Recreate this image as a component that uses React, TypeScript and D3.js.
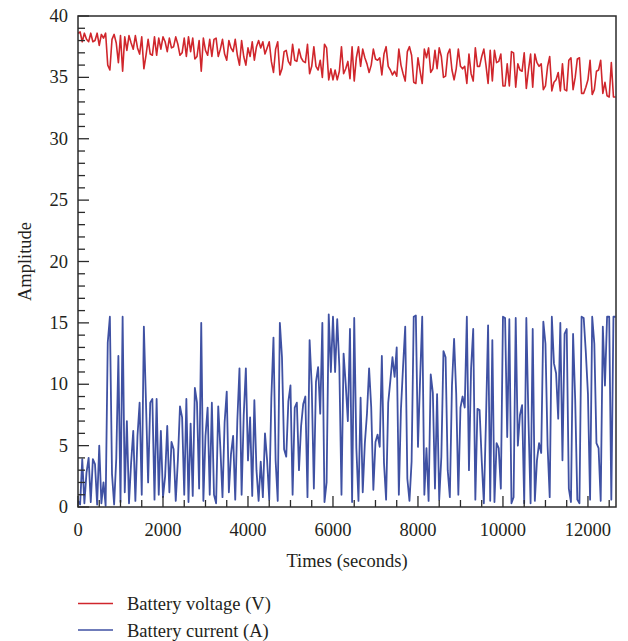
import React from 'react';
import * as d3 from 'd3';

// sample interval (seconds) of the logged series
const T_STEP = 50;

// Battery current (A), one value per sample
const currentA: number[] = [
  0.5, 0.2, 3.9, 0.3, 2.8, 4.0, 0.4, 3.9, 3.5, 0.2, 5.0, 0.3, 2.0, 0.1, 13.4, 15.5, 2.7, 0.2, 3.9, 12.3,
  0.4, 15.5, 1.2, 7.0, 0.3, 3.6, 6.2, 0.5, 5.8, 8.5, 1.0, 14.7, 8.5, 2.0, 8.5, 8.8, 0.6, 8.8, 1.0, 6.2,
  0.8, 2.5, 6.6, 1.2, 5.3, 4.7, 0.5, 3.8, 8.2, 7.3, 1.0, 8.8, 0.4, 6.8, 0.9, 9.7, 8.5, 1.5, 15.0, 0.5,
  5.8, 8.1, 1.0, 8.5,
  1.0, 0.3, 8.2, 4.8, 0.8, 6.9, 9.4, 1.2, 4.3, 5.8, 0.6, 7.1, 11.3, 1.0, 7.5, 11.3,
  3.8, 7.3, 0.9, 8.7, 3.0, 0.5, 3.7, 0.8, 6.0, 3.8, 0.6, 8.9, 13.8, 3.8, 0.5, 15.0, 12.2, 4.7, 4.1, 8.6,
  9.9, 1.0, 8.1, 8.5, 3.0, 6.6, 8.4, 9.0, 0.8, 13.6, 9.9, 1.5, 10.2, 11.4, 7.6, 15.0, 0.4, 2.0, 15.7, 11.0,
  15.5, 11.0, 15.3, 11.4, 1.0, 12.5, 10.0, 7.0,
  14.5, 0.4, 15.4, 4.8, 0.5, 8.9, 1.2, 5.2, 7.6, 11.3, 8.1, 1.4, 5.3, 5.9, 4.9, 12.3, 3.6, 0.6, 8.5, 10.3,
  12.2, 10.6, 13.0, 1.0, 8.0, 11.5, 14.7, 2.3, 0.5, 3.7, 15.5, 15.6, 4.9, 10.4, 15.5, 1.0, 4.8, 0.5, 10.8, 9.3,
  1.5, 9.2, 0.6, 4.1, 12.7, 12.2, 3.0, 0.8, 9.9, 13.7, 9.2, 1.0, 8.1, 9.0, 8.1, 15.5, 3.0, 11.3, 14.5, 0.6,
  8.0, 7.9, 3.8,
  0.3, 7.0, 14.8, 0.5, 13.6, 0.4, 5.2, 4.8, 1.5, 15.5, 15.4, 5.7, 15.3, 0.3, 0.8, 15.4, 5.0, 7.5, 8.3,
  0.3, 15.4, 7.1, 0.3, 14.5, 0.5, 3.8, 5.2, 4.4, 15.1, 13.3, 5.0, 0.8, 15.5, 11.7, 10.9, 7.2, 15.0, 3.8, 14.1,
  14.5, 1.5, 0.4, 14.1, 8.7, 0.6, 0.3, 15.5, 15.4, 12.6, 9.2, 0.6, 15.5, 13.3, 5.2, 4.8, 0.5, 14.7, 9.9, 15.5,
  15.5, 0.6, 15.5, 15.5,
];

// Battery voltage (V), one value per sample
const voltageV: number[] = [
  38.6, 38.7, 37.9, 38.6, 38.1, 37.9, 38.6, 37.9, 38.0, 38.6, 37.6, 38.5, 38.2, 38.6, 36.0, 35.6, 38.1, 38.5, 37.8, 36.2,
  38.4, 35.5, 38.3, 37.2, 38.4, 37.8, 37.3, 38.4, 37.4, 36.9, 38.3, 35.7, 36.8, 38.1, 36.9, 36.8, 38.3, 36.8, 38.2, 37.3,
  38.3, 37.9, 37.1, 38.2, 37.4, 37.5, 38.3, 37.7, 36.8, 37.0, 38.2, 36.7, 38.3, 37.1, 38.2, 36.5, 36.7, 38.0, 35.5, 38.2,
  37.2, 36.8, 38.1, 36.7,
  38.1, 38.2, 36.7, 37.3, 38.1, 36.9, 36.4, 38.0, 37.4, 37.1, 38.1, 36.8, 36.0, 38.0, 36.7, 36.0,
  37.4, 36.7, 37.9, 36.4, 37.5, 38.0, 37.4, 37.9, 36.9, 37.4, 37.9, 36.3, 35.4, 37.3, 37.9, 35.2, 35.7, 37.1, 37.2, 36.3,
  36.0, 37.7, 36.4, 36.3, 37.3, 36.6, 36.3, 36.2, 37.7, 35.3, 35.9, 37.5, 35.9, 35.6, 36.4, 35.0, 37.7, 37.4, 34.8, 35.7,
  34.8, 35.6, 34.8, 35.5, 37.5, 35.3, 35.7, 36.3,
  34.9, 37.5, 34.7, 36.6, 37.5, 35.9, 37.3, 36.6, 36.1, 35.4, 36.0, 37.3, 36.5, 36.4, 36.6, 35.2, 36.9, 37.5, 35.9, 35.6,
  35.2, 35.5, 35.1, 37.3, 36.0, 35.3, 34.7, 37.1, 37.5, 36.8, 34.6, 34.5, 36.6, 35.5, 34.5, 37.3, 36.6, 37.4, 35.4, 35.7,
  37.2, 35.7, 37.4, 36.7, 35.0, 35.1, 36.9, 37.3, 35.6, 34.8, 35.7, 37.3, 35.9, 35.7, 35.9, 34.5, 36.9, 35.3, 34.7, 37.4,
  35.9, 35.9, 36.7,
  37.3, 36.0, 34.5, 37.2, 34.7, 37.2, 36.2, 36.3, 36.9, 34.3, 34.3, 36.1, 34.3, 37.1, 37.0, 34.2, 36.1, 35.6, 35.5,
  37.0, 34.1, 35.6, 36.9, 34.2, 36.9, 36.2, 35.9, 36.1, 34.0, 34.3, 35.9, 36.7, 33.9, 34.6, 34.8, 35.4, 33.9, 36.1, 34.0,
  33.9, 36.4, 36.6, 34.0, 35.0, 36.5, 36.6, 33.7, 33.7, 34.2, 34.8, 36.4, 33.6, 34.0, 35.5, 35.6, 36.4, 33.7, 34.6, 33.5,
  33.4, 36.2, 33.4, 33.4,
];

const X_MAX = 12660;
const xTickValues = [0, 2000, 4000, 6000, 8000, 10000, 12000];
const yTickValues = [0, 5, 10, 15, 20, 25, 30, 35, 40];
const xAxisTitle = 'Times (seconds)';
const yAxisTitle = 'Amplitude';
const seriesNames = ['Battery voltage (V)', 'Battery current (A)'];
const seriesColors = ['#d0262c', '#3f51a3'];

export default function App() {
  const W = 628;
  const H = 641;
  const L = 78, R = 616, T = 16, B = 507;
  const x = d3.scaleLinear().domain([0, X_MAX]).range([L, R]);
  const y = d3.scaleLinear().domain([0, 40]).range([B, T]);
  const line = d3
    .line<number>()
    .x((_, i) => x(i * T_STEP))
    .y((d) => y(d));

  const xMinor = d3.range(0, X_MAX, 500).filter((v) => v % 2000 !== 0);
  const yMinor = d3.range(0, 41, 1).filter((v) => v % 5 !== 0);
  const font = "'Liberation Serif', 'Times New Roman', serif";
  const axisColor = '#2b2b2b';
  const textColor = '#231f20';

  return (
    <svg
      width={W}
      height={H}
      style={{ position: 'absolute', left: 0, top: 0, display: 'block', background: '#fff' }}
    >
      <rect x={0} y={0} width={W} height={H} fill="#fff" />
      <defs>
        <clipPath id="plotclip">
          <rect x={L} y={T - 2} width={R - L} height={B - T + 2} />
        </clipPath>
      </defs>
      <g clipPath="url(#plotclip)">
        <path d={line(voltageV) || ''} fill="none" stroke={seriesColors[0]} strokeWidth={1.6} strokeLinejoin="round" />
        <path d={line(currentA) || ''} fill="none" stroke={seriesColors[1]} strokeWidth={1.8} strokeLinejoin="round" />
      </g>
      {/* ticks */}
      <g stroke={axisColor} strokeWidth={1.3}>
        {xTickValues.map((v) => (
          <line key={'xM' + v} x1={x(v)} x2={x(v)} y1={B} y2={B - 11} />
        ))}
        {xMinor.map((v) => (
          <line key={'xm' + v} x1={x(v)} x2={x(v)} y1={B} y2={B - 7} />
        ))}
        {yTickValues.map((v) => (
          <line key={'yM' + v} x1={L} x2={L + 11} y1={y(v)} y2={y(v)} />
        ))}
        {yMinor.map((v) => (
          <line key={'ym' + v} x1={L} x2={L + 7} y1={y(v)} y2={y(v)} />
        ))}
      </g>
      <rect x={L} y={T} width={R - L} height={B - T} fill="none" stroke={axisColor} strokeWidth={1.5} />
      {/* tick labels */}
      <g fontFamily={font} fontSize={18.5} fill={textColor}>
        {xTickValues.map((v) => (
          <text key={'xl' + v} x={x(v)} y={536} textAnchor="middle">
            {v}
          </text>
        ))}
        {yTickValues.map((v) => (
          <text key={'yl' + v} x={68} y={y(v) + 6} textAnchor="end">
            {v}
          </text>
        ))}
        <text x={(L + R) / 2} y={567} textAnchor="middle">
          {xAxisTitle}
        </text>
        <text transform={`translate(31, ${(T + B) / 2}) rotate(-90)`} textAnchor="middle">
          {yAxisTitle}
        </text>
      </g>
      {/* legend */}
      <g fontFamily={font} fontSize={18.5} fill={textColor}>
        {seriesNames.map((name, i) => (
          <g key={name} transform={`translate(0, ${i * 26.5})`}>
            <line x1={78} x2={113} y1={603.5} y2={603.5} stroke={seriesColors[i]} strokeWidth={1.3} />
            <text x={127} y={610}>
              {name}
            </text>
          </g>
        ))}
      </g>
    </svg>
  );
}
